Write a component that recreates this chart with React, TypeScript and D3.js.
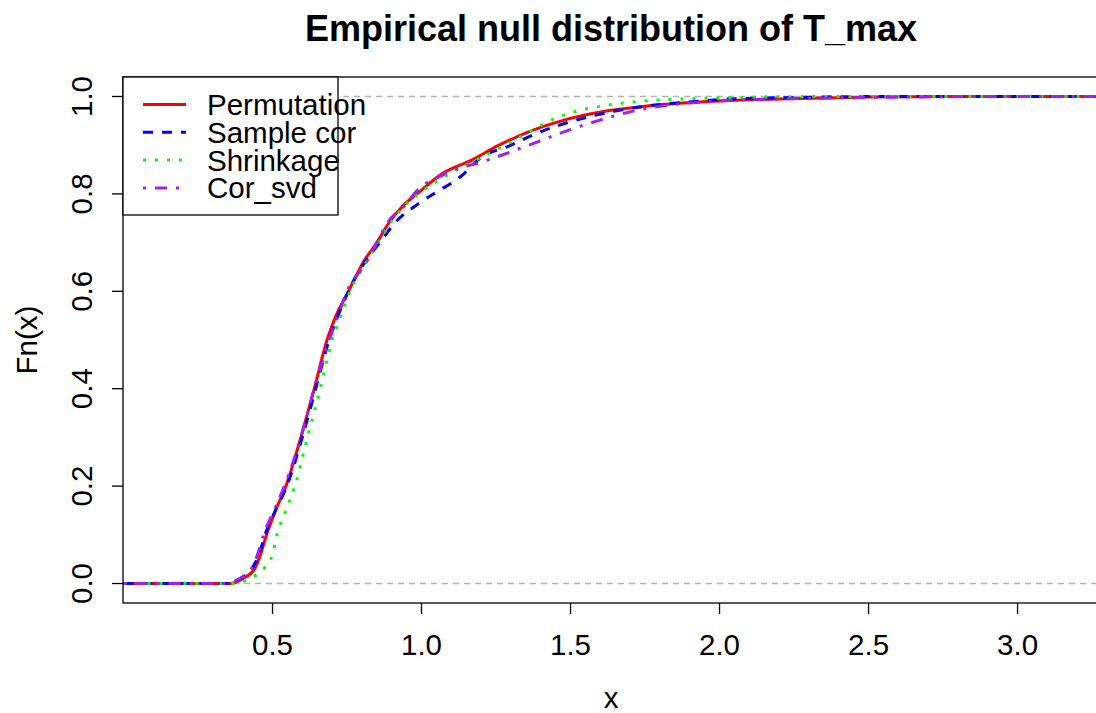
import * as d3 from 'd3';

// cumulative probability levels at which each curve's x was read
const probs = [0, 0.01, 0.03, 0.06, 0.1, 0.15, 0.2, 0.3, 0.4, 0.5, 0.55, 0.6, 0.66, 0.7, 0.74, 0.78, 0.8, 0.84, 0.87, 0.9, 0.93, 0.95, 0.97, 0.98, 0.99, 0.995, 1];

const permutation = [0.36, 0.40, 0.44, 0.46, 0.48, 0.51, 0.545, 0.595, 0.64, 0.683, 0.713, 0.755, 0.805, 0.85, 0.89, 0.945, 0.985, 1.065, 1.17, 1.26, 1.37, 1.47, 1.62, 1.75, 1.98, 2.2, 2.8];
const sampleCor = [0.36, 0.39, 0.43, 0.455, 0.475, 0.51, 0.548, 0.60, 0.645, 0.69, 0.72, 0.755, 0.81, 0.86, 0.91, 0.99, 1.04, 1.14, 1.19, 1.30, 1.41, 1.51, 1.65, 1.75, 1.93, 2.04, 2.6];
const shrinkage = [0.38, 0.42, 0.47, 0.50, 0.515, 0.545, 0.575, 0.617, 0.66, 0.70, 0.73, 0.76, 0.815, 0.855, 0.895, 0.95, 0.99, 1.09, 1.185, 1.28, 1.37, 1.43, 1.52, 1.60, 1.73, 1.88, 2.4];
const corSvd = [0.34, 0.39, 0.43, 0.45, 0.47, 0.505, 0.54, 0.595, 0.64, 0.69, 0.72, 0.75, 0.815, 0.85, 0.885, 0.95, 0.975, 1.075, 1.225, 1.36, 1.49, 1.59, 1.71, 1.80, 1.98, 2.2, 3.0];

const seriesNames = ['Permutation', 'Sample cor', 'Shrinkage', 'Cor_svd'];
const seriesColors = ['#FF0000', '#0000FF', '#00FF00', '#A020F0'];
const seriesDash = ['none', '10 9', '3 9', '3 9 12 9'];
const seriesValues = [permutation, sampleCor, shrinkage, corSvd];

const xTicks = [0.5, 1.0, 1.5, 2.0, 2.5, 3.0];
const yTicks = [0, 0.2, 0.4, 0.6, 0.8, 1.0];

const W = 1096;
const H = 713;
const plot = { left: 123, top: 77, right: 1101, bottom: 603 };
const font = 'Liberation Sans, Arial, Helvetica, sans-serif';

export default function App() {
  const x = d3.scaleLinear().domain([0, 3.28]).range([plot.left + 0.5, plot.right]);
  const y = d3.scaleLinear().domain([-0.04, 1.04]).range([plot.bottom, plot.top]);
  const [x0, x1] = x.domain();

  const line = d3.line<[number, number]>()
    .x(d => x(d[0]))
    .y(d => y(d[1]))
    .curve(d3.curveMonotoneX);

  const paths = seriesValues.map(vals => {
    const pts: [number, number][] = [[x0, 0], ...vals.map((v, i) => [v, probs[i]] as [number, number]), [x1, 1]];
    return line(pts) || '';
  });

  const legendRows = seriesNames.map((_, i) => 104.5 + i * 27.8);

  return (
    <svg width={W} height={H} style={{ position: 'absolute', left: 0, top: 0, background: '#fff' }} fontFamily={font}>
      <defs>
        <clipPath id="plotclip">
          <rect x={plot.left} y={plot.top} width={plot.right - plot.left} height={plot.bottom - plot.top} />
        </clipPath>
      </defs>
      <rect width={W} height={H} fill="#fff" />

      <text x={611} y={41} textAnchor="middle" fontSize={36} fontWeight="bold">Empirical null distribution of T_max</text>

      <g clipPath="url(#plotclip)">
        {[0, 1].map(v => (
          <line key={v} x1={plot.left} x2={plot.right} y1={y(v)} y2={y(v)} stroke="#B3B3B3" strokeWidth={1.6} strokeDasharray="6 5" />
        ))}
        {paths.map((p, i) => (
          <path key={i} d={p} fill="none" stroke={seriesColors[i]} strokeWidth={3} strokeDasharray={seriesDash[i]} />
        ))}
      </g>

      <rect x={plot.left} y={plot.top} width={plot.right - plot.left} height={plot.bottom - plot.top} fill="none" stroke="#000" strokeWidth={1.3} />

      {xTicks.map(t => (
        <g key={t}>
          <line x1={x(t)} x2={x(t)} y1={plot.bottom} y2={plot.bottom + 11} stroke="#000" strokeWidth={1.3} />
          <text x={x(t)} y={655} textAnchor="middle" fontSize={29.5}>{t.toFixed(1)}</text>
        </g>
      ))}
      <text x={611} y={708} textAnchor="middle" fontSize={29.5}>x</text>

      {yTicks.map(t => (
        <g key={t}>
          <line x1={plot.left} x2={plot.left - 11} y1={y(t)} y2={y(t)} stroke="#000" strokeWidth={1.3} />
          <text transform={`translate(92,${y(t)}) rotate(-90)`} textAnchor="middle" fontSize={29.5}>{t.toFixed(1)}</text>
        </g>
      ))}
      <text transform={`translate(37,${y(0.5)}) rotate(-90)`} textAnchor="middle" fontSize={29.5}>Fn(x)</text>

      <rect x={plot.left} y={plot.top} width={215} height={138} fill="#fff" stroke="#000" strokeWidth={1.3} />
      {seriesNames.map((name, i) => (
        <g key={name}>
          <line x1={143} x2={186} y1={legendRows[i]} y2={legendRows[i]} stroke={seriesColors[i]} strokeWidth={3} strokeDasharray={seriesDash[i]} />
          <text x={207} y={legendRows[i] + 10.5} fontSize={29.5}>{name}</text>
        </g>
      ))}
    </svg>
  );
}
